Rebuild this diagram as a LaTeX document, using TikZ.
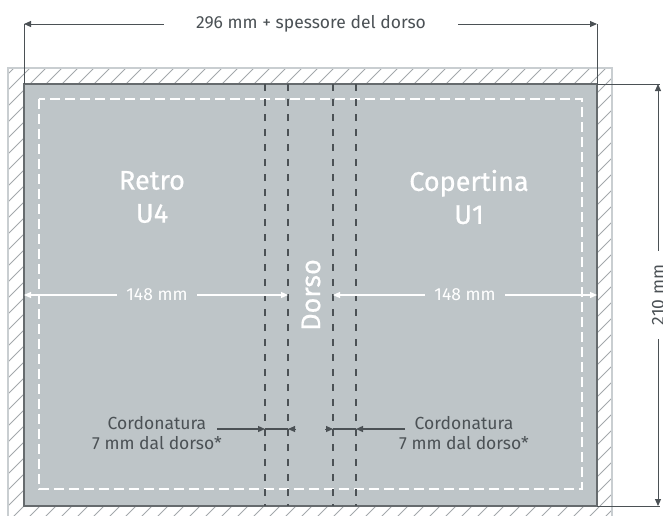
\documentclass[tikz,border=0pt]{standalone}
\usepackage{fontspec}
\setmainfont{Fira Sans}
\newfontfamily\medfont[FakeBold=0.6]{Fira Sans}
\usetikzlibrary{arrows.meta}
\definecolor{paper}{HTML}{BEC5C8}
\definecolor{ink}{HTML}{4B5155}
\definecolor{bleedline}{HTML}{C9CED1}
\definecolor{hatchc}{HTML}{A3A8AB}
\begin{document}
\begin{tikzpicture}[x=1pt,y=-1pt,
  dim/.style={draw=ink,line width=1pt},
  tip/.style={-{Triangle[length=7pt,width=6pt]}},
  lbl/.style={text=ink,font=\fontsize{17.5}{20}\selectfont,inner sep=0pt},
  wlbl/.style={text=white,font=\fontsize{17.5}{20}\selectfont,inner sep=0pt},
  big/.style={text=white,font=\medfont\fontsize{27}{33}\selectfont,align=center,inner sep=0pt},
  crease/.style={draw=ink,line width=2pt,dash pattern=on 7pt off 8pt},
  safe/.style={draw=white,line width=2pt,dash pattern=on 10pt off 5pt},
  warr/.style={draw=white,line width=1.2pt,-{Triangle[length=7pt,width=6pt]}}
]
\useasboundingbox (0,0) rectangle (663,515);
% bleed hatching
\begin{scope}
  \clip (8,68) rectangle (612,522);
  \foreach \k in {-520,-504,...,620} \draw[hatchc,line width=0.8pt] (\k,522) -- ++(454,-454);
\end{scope}
\draw[bleedline,line width=1.5pt] (8,68) rectangle (612,522);
% page
\draw[fill=paper,draw=ink!85,line width=1.5pt] (24,84) rectangle (597,506);
\draw[safe] (39,99) rectangle (582,489);
\foreach \x in {265,288,333,356} \draw[crease] (\x,84) -- (\x,506);

% coordinates
\coordinate (tl) at (24,24);
\coordinate (tr) at (597,24);
\coordinate (pgtl) at (24,84);
\coordinate (pgtr) at (597,84);
\coordinate (pgbr) at (597,506);
\coordinate (rt) at (658,84);
\coordinate (rb) at (658,506);
\coordinate (la) at (24,295);
\coordinate (lb) at (288,295);
\coordinate (ra) at (333,295);
\coordinate (rbb) at (597,295);
\coordinate (c1) at (265,429);
\coordinate (c2) at (288,429);
\coordinate (c2o) at (296,429);
\coordinate (c3) at (333,429);
\coordinate (c3o) at (325,429);
\coordinate (c4) at (356,429);
\coordinate (cla) at (217,429);
\coordinate (cra) at (405,429);

% top dimension
\node[lbl,inner xsep=32pt] (w296) at (311,24) {296 mm + spessore del dorso};
\draw[dim,tip] (w296.west) -- (tl);
\draw[dim,tip] (w296.east) -- (tr);
\draw[dim] (tl) -- (pgtl);
\draw[dim] (tr) -- (pgtr);

% right dimension
\node[lbl,rotate=90,inner xsep=14pt] (h210) at (658,295) {210 mm};
\draw[dim,tip] (h210.east) -- (rt);
\draw[dim,tip] (h210.west) -- (rb);
\draw[dim] (pgtr) -- ([xshift=2pt]rt);
\draw[dim] (pgbr) -- ([xshift=2pt]rb);

% big labels
\node[big] (retro) at (152,197) {Retro\\U4};
\node[big] (cop) at (469,197) {Copertina\\U1};
\node[big,rotate=90] (dorso) at (311,295) {Dorso};

% 148 mm arrows
\node[wlbl,inner xsep=9pt] (l148) at (157,295) {148 mm};
\draw[warr] (l148.west) -- (la);
\draw[warr] (l148.east) -- (lb);
\node[wlbl,inner xsep=9pt] (r148) at (465,295) {148 mm};
\draw[warr] (r148.west) -- (ra);
\draw[warr] (r148.east) -- (rbb);

% cordonatura
\node[lbl,align=center] (cl) at (157,433) {Cordonatura\\7 mm dal dorso*};
\node[lbl,align=center] (cr) at (464,433) {Cordonatura\\7 mm dal dorso*};
\draw[dim,line width=1.3pt,tip] (cla) -- (c1);
\draw[dim,line width=1.3pt] (c1) -- (c2);
\draw[dim,tip] (c2o) -- (c2);
\draw[dim,tip] (c3o) -- (c3);
\draw[dim,line width=1.3pt] (c3) -- (c4);
\draw[dim,line width=1.3pt,tip] (cra) -- (c4);
\end{tikzpicture}
\end{document}
